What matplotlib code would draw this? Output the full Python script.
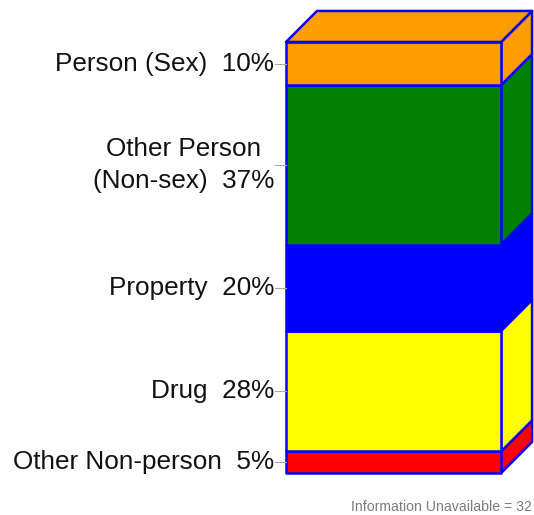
import matplotlib.pyplot as plt
from matplotlib.patches import Polygon

# bottom to top
categories = ['Other Non-person', 'Drug', 'Property', 'Other Person\n(Non-sex)', 'Person (Sex)']
percents = [5, 28, 20, 37, 10]
colours = ['#ff0000', '#ffff00', '#0000ff', '#008000', '#ff9c00']
footnote = 'Information Unavailable = 32'

edge = '#0000ff'
dx, dy = 0.144, 7.2   # depth of the 3d box

plt.rcParams['font.family'] = ['Liberation Sans', 'DejaVu Sans']

fig = plt.figure(figsize=(5.34, 5.15), dpi=100)
ax = fig.add_axes([0, 0, 1, 1])
ax.set_xlim(-1.330, 1.153)
ax.set_ylim(-9.74, 109.74)
ax.axis('off')

bottom = 0
for name, pct, col in zip(categories, percents, colours):
    top = bottom + pct
    # right side face
    side = [(1, bottom), (1 + dx, bottom + dy), (1 + dx, top + dy), (1, top)]
    ax.add_patch(Polygon(side, closed=True, facecolor=col, edgecolor=edge, lw=1.8, joinstyle='round'))
    # front face
    front = [(0, bottom), (1, bottom), (1, top), (0, top)]
    ax.add_patch(Polygon(front, closed=True, facecolor=col, edgecolor=edge, lw=1.8, joinstyle='round'))
    mid = (bottom + top) / 2
    ax.text(-0.056, mid, f'{name}  {pct}%', ha='right', va='center',
            multialignment='center', fontsize=18.8, color='#111111', linespacing=1.4)
    ax.plot([-0.051, 0], [mid, mid], color='#aaaaaa', lw=0.8)
    bottom = top

# top face of the box
total = sum(percents)
lid = [(0, total), (dx, total + dy), (1 + dx, total + dy), (1, total)]
ax.add_patch(Polygon(lid, closed=True, facecolor=colours[-1], edgecolor=edge, lw=1.8, joinstyle='round'))

fig.text(0.996, 0.016, footnote, ha='right', va='center', fontsize=10.2, color='#7a7a7a')

plt.savefig('out.png', dpi=100)
